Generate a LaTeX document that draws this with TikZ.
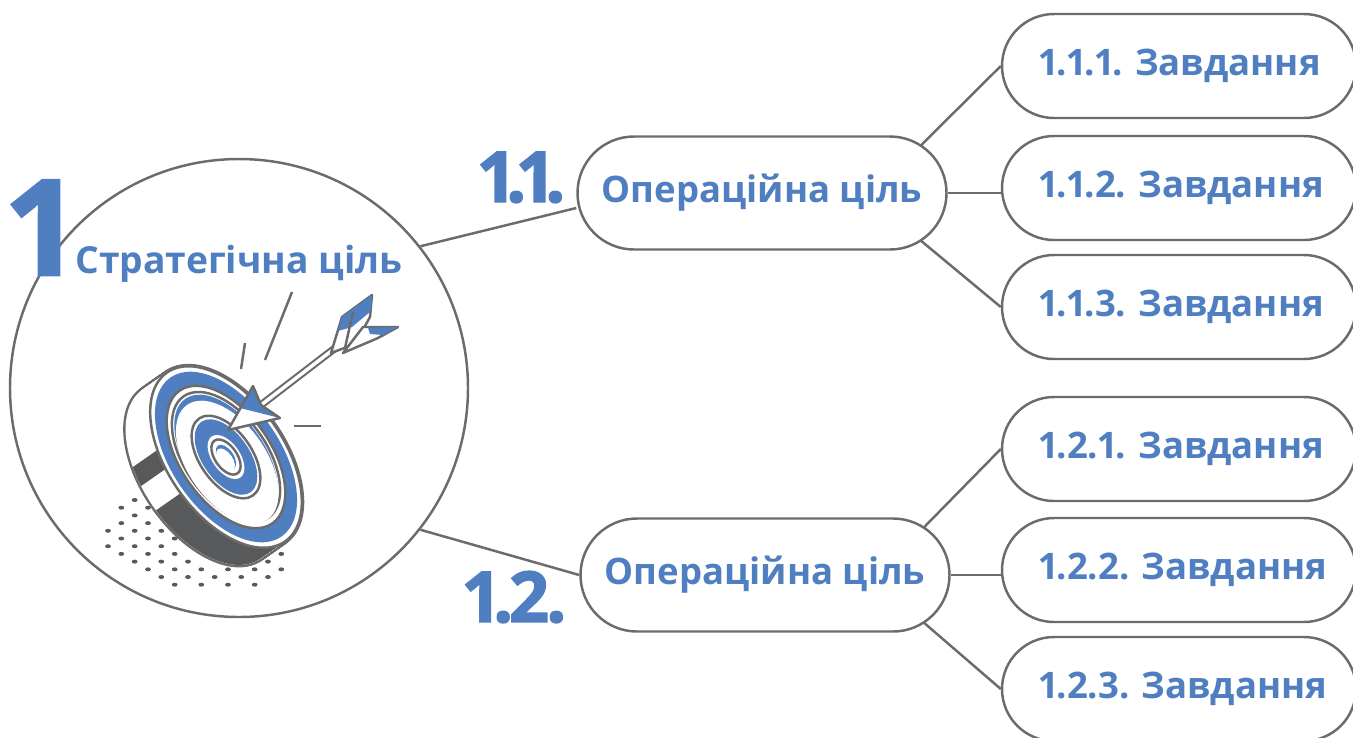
\documentclass[tikz,border=0pt]{standalone}
\usepackage{fontspec}
\setmainfont{Open Sans}[Numbers=Proportional]
\newfontfamily\numfont{Open Sans}[FakeBold=2]
\usetikzlibrary{calc}

\definecolor{goalblue}{HTML}{4F7FC1}
\definecolor{linegray}{HTML}{6B6B6B}
\definecolor{bandgray}{HTML}{58595B}

\tikzset{
  pill/.style={draw=linegray, line width=0.7pt, fill=white, rounded corners=5.2mm,
    text=goalblue, font=\bfseries\fontsize{10.4}{12}\selectfont, inner sep=0pt},
  oppill/.style={pill, minimum width=36.9mm, minimum height=11.3mm, rounded corners=5.65mm},
  taskpill/.style={pill, minimum width=35.4mm, minimum height=10.4mm, text width=28mm, align=left},
  link/.style={linegray, line width=0.7pt},
  bignum/.style={text=goalblue, inner sep=0pt, font=\numfont\bfseries\fontsize{20}{20}\selectfont},
  ring/.style={draw=linegray, line width=0.7pt},
}

\begin{document}
\begin{tikzpicture}[x=0.1mm, y=0.1mm]
  \useasboundingbox (0,0) rectangle (1353,737);

  % strategic goal circle
  \node[circle, draw=linegray, line width=0.7pt, minimum size=45.8mm, inner sep=0pt] (goal) at (239,349) {};

  % dotted shadow under the board
  \foreach \r/\ks in {0/{2}, 1/{1,3}, 2/{2}, 3/{1,3}, 4/{0,2,4}, 5/{1,3,5}, 6/{0,2,4},
      7/{1,3,5,13}, 8/{2,4,6,12}, 9/{3,5,7,9,11,13}, 10/{4,6,8,10,12}, 11/{5,7,9,11}}
    \foreach \k in \ks
      \fill[bandgray] ({108+13.33*\k},{237-7.7*\r}) ellipse [x radius=2.9, y radius=2];

  % target board, in its own tilted frame
  \begin{scope}[shift={(226,280)}, rotate=-55]
    % thickness: sweep the face backwards
    \foreach \s in {0,1,...,30}
      \draw[linegray, line width=1.4pt] (0,-\s) ellipse [x radius=103, y radius=58];
    \foreach \s in {0,1,...,30}
      \fill[white] (0,-\s) ellipse [x radius=103, y radius=58];
    \fill[bandgray] (244:103 and 58) arc[start angle=244, end angle=256, x radius=103, y radius=58]
      -- ++(0,-30) arc[start angle=256, end angle=244, x radius=103, y radius=58] -- cycle;
    \fill[bandgray] (272:103 and 58) arc[start angle=272, end angle=360, x radius=103, y radius=58]
      -- ++(0,-30) arc[start angle=360, end angle=272, x radius=103, y radius=58] -- cycle;

    % rings
    \filldraw[ring, fill=white] (0,0) ellipse [x radius=103, y radius=58];
    \fill[goalblue] (0,0) ellipse [x radius=97, y radius=54];
    \filldraw[ring, fill=white] (0,0) ellipse [x radius=81, y radius=45];
    \draw[ring] (0,0) ellipse [x radius=74, y radius=41];
    \fill[goalblue] (0,0) ellipse [x radius=71, y radius=39];
    \fill[white] (5,-2) ellipse [x radius=70, y radius=39];
    \filldraw[ring, fill=white] (0,0) ellipse [x radius=47, y radius=26];
    \fill[goalblue] (0,0) ellipse [x radius=43, y radius=23.5];
    \fill[white] (0,0) ellipse [x radius=25, y radius=14];
    \filldraw[ring, fill=white] (0,0) ellipse [x radius=20, y radius=11];
    \fill[goalblue] (0,0) ellipse [x radius=14, y radius=7.5];
    \fill[white] (2,-2) ellipse [x radius=13, y radius=7];
  \end{scope}

  % arrow stuck in the board
  \draw[linegray, line width=0.6pt, double=white, double distance=0.35mm] (261,332) -- (343,395);
  \fill[white] (228,307) -- (253,351) -- (261,332) -- (280,319) -- cycle;
  \fill[goalblue] (240,329) -- (253,351) -- (261,332) -- (280,319) -- cycle;
  \draw[ring, line join=round] (228,307) -- (253,351) -- (261,332) -- (280,319) -- cycle;

  % fletching
  \filldraw[ring, fill=white, line join=round] (331,384) -- (342,420) -- (372,442) -- (370,420) -- (355,393) -- cycle;
  \fill[goalblue] (338,406) -- (342,420) -- (372,442) -- (371,426) -- (352,410) -- cycle;
  \draw[ring] (345,389) -- (353,425);
  \filldraw[ring, fill=white, line join=round] (343,384) -- (363,410) -- (398,410) -- (378,399) -- cycle;
  \fill[goalblue] (368,409) -- (398,410) -- (383,402) -- (370,403) -- cycle;

  % impact strokes
  \draw[link] (292,445) -- (265,377);
  \draw[link] (245,394) -- (241,368);
  \draw[link] (294,311) -- (321,311);

  % goal title
  \node[anchor=base, text=goalblue, font=\bfseries\fontsize{10.6}{12}\selectfont] (goaltext) at (239,464) {Стратегічна ціль};
  \node[anchor=base, text=goalblue, inner sep=0pt, font=\numfont\bfseries\fontsize{37.8}{38}\selectfont] (goalnum) at (42,462) {1};

  % operational goals
  \node[oppill] (op1) at (762,544) {Операційна ціль};
  \node[oppill] (op2) at (765,162) {Операційна ціль};
  \node[bignum, anchor=base east] (op1num) at (566,535) {1\kern-.15em.\kern-.15em1\kern-.15em.};
  \node[bignum, anchor=base east] (op2num) at (567,115) {1\kern-.12em.\kern-.06em2\kern-.04em.};

  % tasks
  \node[taskpill] (t111) at (1179,671) {1.1.1.~Завдання};
  \node[taskpill] (t112) at (1179,549) {1.1.2.~Завдання};
  \node[taskpill] (t113) at (1179,430) {1.1.3.~Завдання};
  \node[taskpill] (t121) at (1179,288) {1.2.1.~Завдання};
  \node[taskpill] (t122) at (1179,167) {1.2.2.~Завдання};
  \node[taskpill] (t123) at (1179,48) {1.2.3.~Завдання};

  % links
  \draw[link] (goal.38) -- ([yshift=-1.5mm]op1.west);
  \draw[link] (goal.-38) -- (op2.west);
  \foreach \op/\a/\b/\c in {op1/t111/t112/t113, op2/t121/t122/t123} {
    \draw[link] ($(\op.east)+(-56.5,0)+(58:56.5)$) -- (\a.west);
    \draw[link] (\op.east) -- (\op.east -| \b.west);
    \draw[link] ($(\op.east)+(-56.5,0)+(-58:56.5)$) -- (\c.west);
  }
\end{tikzpicture}
\end{document}
